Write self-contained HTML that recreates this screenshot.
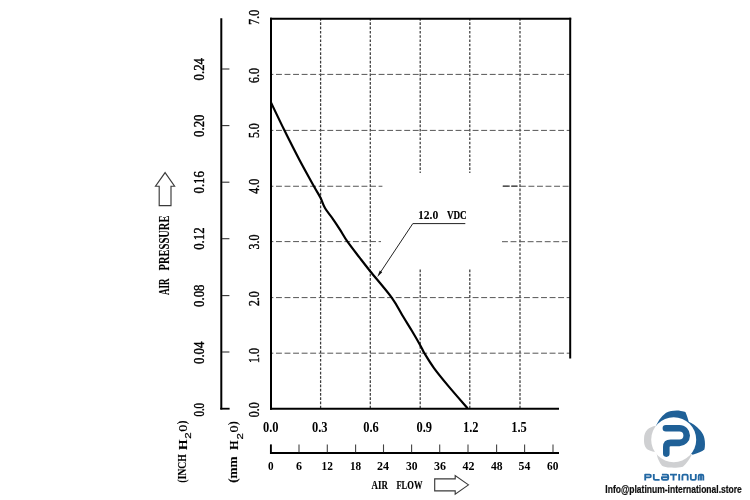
<!DOCTYPE html>
<html><head><meta charset="utf-8"><title>Fan P-Q curve</title>
<style>html,body{margin:0;padding:0;background:#fff;}body{width:750px;height:500px;overflow:hidden;font-family:"Liberation Serif",serif;}svg{display:block;}</style>
</head><body>
<svg width="750" height="500" viewBox="0 0 750 500">
<defs><filter id="soft" x="0" y="0" width="750" height="500" filterUnits="userSpaceOnUse"><feGaussianBlur stdDeviation="0.3"/></filter></defs>
<rect width="750" height="500" fill="#fff"/>
<line x1="320.6" y1="19" x2="320.6" y2="409" stroke="#3c3c3c" stroke-width="1.25" stroke-dasharray="2.7 1.56" stroke-dashoffset="0.90"/>
<line x1="370.3" y1="19" x2="370.3" y2="409" stroke="#3c3c3c" stroke-width="1.25" stroke-dasharray="2.7 1.56" stroke-dashoffset="0.90"/>
<line x1="420.2" y1="19" x2="420.2" y2="173" stroke="#3c3c3c" stroke-width="1.25" stroke-dasharray="2.7 1.56" stroke-dashoffset="0.90"/>
<line x1="420.2" y1="268" x2="420.2" y2="409" stroke="#3c3c3c" stroke-width="1.25" stroke-dasharray="2.7 1.56" stroke-dashoffset="2.82"/>
<line x1="469.8" y1="19" x2="469.8" y2="173" stroke="#3c3c3c" stroke-width="1.25" stroke-dasharray="2.7 1.56" stroke-dashoffset="0.90"/>
<line x1="469.8" y1="268" x2="469.8" y2="409" stroke="#3c3c3c" stroke-width="1.25" stroke-dasharray="2.7 1.56" stroke-dashoffset="2.82"/>
<line x1="520" y1="19" x2="520" y2="409" stroke="#3c3c3c" stroke-width="1.25" stroke-dasharray="2.7 1.56" stroke-dashoffset="0.90"/>
<line x1="271" y1="74.4" x2="570" y2="74.4" stroke="#555" stroke-width="1" stroke-dasharray="5.9 2.65" stroke-dashoffset="3.55"/>
<line x1="271" y1="130.4" x2="570" y2="130.4" stroke="#555" stroke-width="1" stroke-dasharray="5.9 2.65" stroke-dashoffset="3.55"/>
<line x1="271" y1="186.25" x2="382.4" y2="186.25" stroke="#555" stroke-width="1" stroke-dasharray="5.9 2.65" stroke-dashoffset="3.55"/>
<line x1="502.8" y1="186.25" x2="570" y2="186.25" stroke="#555" stroke-width="1" stroke-dasharray="5.9 2.65" stroke-dashoffset="0.00"/>
<line x1="502.8" y1="186.2" x2="517.6" y2="186.2" stroke="#444" stroke-width="1.3" stroke-dasharray="7 1.5"/>
<line x1="271" y1="241.6" x2="381" y2="241.6" stroke="#555" stroke-width="1" stroke-dasharray="5.9 2.65" stroke-dashoffset="3.55"/>
<line x1="502" y1="241.7" x2="570" y2="241.7" stroke="#555" stroke-width="1" stroke-dasharray="5.9 2.65" stroke-dashoffset="0.00"/>
<line x1="271" y1="297.6" x2="570" y2="297.6" stroke="#555" stroke-width="1" stroke-dasharray="5.9 2.65" stroke-dashoffset="3.55"/>
<line x1="271" y1="353.2" x2="570" y2="353.2" stroke="#555" stroke-width="1" stroke-dasharray="5.9 2.65" stroke-dashoffset="3.55"/>
<line x1="271" y1="17.8" x2="271" y2="409.7" stroke="#000" stroke-width="2"/>
<line x1="270" y1="18.8" x2="571.2" y2="18.8" stroke="#000" stroke-width="1.9"/>
<line x1="570.2" y1="17.8" x2="570.2" y2="358.6" stroke="#000" stroke-width="2"/>
<line x1="270" y1="408.8" x2="559" y2="408.8" stroke="#000" stroke-width="1.9"/>
<line x1="221.3" y1="18.2" x2="221.3" y2="409.6" stroke="#000" stroke-width="2"/>
<line x1="220.3" y1="408.7" x2="229.6" y2="408.7" stroke="#000" stroke-width="1.8"/>
<line x1="222" y1="69" x2="229.4" y2="69" stroke="#333" stroke-width="1.1"/>
<line x1="222" y1="125.6" x2="229.4" y2="125.6" stroke="#333" stroke-width="1.1"/>
<line x1="222" y1="182.2" x2="229.4" y2="182.2" stroke="#333" stroke-width="1.1"/>
<line x1="222" y1="238.7" x2="229.4" y2="238.7" stroke="#333" stroke-width="1.1"/>
<line x1="222" y1="295.6" x2="229.4" y2="295.6" stroke="#333" stroke-width="1.1"/>
<line x1="222" y1="352" x2="229.4" y2="352" stroke="#333" stroke-width="1.1"/>
<line x1="270" y1="453" x2="559" y2="453" stroke="#000" stroke-width="1.9"/>
<line x1="270.9" y1="444.4" x2="270.9" y2="454" stroke="#000" stroke-width="1.9"/>
<line x1="299" y1="444.4" x2="299" y2="452.2" stroke="#444" stroke-width="1.1"/>
<line x1="327.3" y1="444.4" x2="327.3" y2="452.2" stroke="#444" stroke-width="1.1"/>
<line x1="355.6" y1="444.4" x2="355.6" y2="452.2" stroke="#444" stroke-width="1.1"/>
<line x1="383.5" y1="444.4" x2="383.5" y2="452.2" stroke="#444" stroke-width="1.1"/>
<line x1="411.6" y1="444.4" x2="411.6" y2="452.2" stroke="#444" stroke-width="1.1"/>
<line x1="439.7" y1="444.4" x2="439.7" y2="452.2" stroke="#444" stroke-width="1.1"/>
<line x1="468" y1="444.4" x2="468" y2="452.2" stroke="#444" stroke-width="1.1"/>
<line x1="496.6" y1="444.4" x2="496.6" y2="452.2" stroke="#444" stroke-width="1.1"/>
<line x1="524.6" y1="444.4" x2="524.6" y2="452.2" stroke="#444" stroke-width="1.1"/>
<line x1="553" y1="444.4" x2="553" y2="452.2" stroke="#444" stroke-width="1.1"/>
<path d="M271,102.5 C273.23,107.13 279.65,120.72 284.4,130.3 C289.15,139.88 294.58,150.68 299.5,160 C304.42,169.32 310.40,179.90 313.9,186.2 C317.40,192.50 318.63,194.12 320.5,197.8 C322.37,201.48 323.05,204.80 325.1,208.3 C327.15,211.80 330.35,215.30 332.8,218.8 C335.25,222.30 337.35,225.48 339.8,229.3 C342.25,233.12 344.13,236.88 347.5,241.7 C350.87,246.52 356.22,253.28 360,258.2 C363.78,263.12 364.92,264.63 370.2,271.2 C375.48,277.77 386.22,290.05 391.7,297.6 C397.18,305.15 399.72,310.93 403.1,316.5 C406.48,322.07 409.15,326.22 412,331 C414.85,335.78 418.13,341.50 420.2,345.2 C422.27,348.90 422.10,349.38 424.4,353.2 C426.70,357.02 430.07,362.70 434,368.1 C437.93,373.50 442.40,378.90 448,385.6 C453.60,392.30 464.33,404.52 467.6,408.3" fill="none" stroke="#000" stroke-width="2.2" stroke-linejoin="round"/>
<path d="M465.3,223.6 L412.8,223.6 L380.5,272.2" fill="none" stroke="#222" stroke-width="1"/>
<path d="M377.3,277 L379.8,270.6 L382.2,272.2 Z" fill="#111"/>
<path d="M165.1,172.6 L174.6,186.2 L171,186.2 L171,205.6 L159.2,205.6 L159.2,186.2 L155.5,186.2 Z" fill="#fff" stroke="#3a3a3a" stroke-width="1.15" stroke-linejoin="miter"/>
<path d="M468.5,484.85 L455.2,475.6 L455.2,478.9 L434.7,478.9 L434.7,490.8 L455.2,490.8 L455.2,494.1 Z" fill="#fff" stroke="#3a3a3a" stroke-width="1.15" stroke-linejoin="miter"/>
<g filter="url(#soft)">
<text transform="translate(199.30,69.20) rotate(-90) scale(0.0640,0.0726) translate(-175.00,65.50)" font-family="Liberation Serif" font-weight="normal" font-size="200" fill="#000"  stroke="#000" stroke-width="5.56" stroke-linejoin="round">0.24</text>
<text transform="translate(199.30,125.70) rotate(-90) scale(0.0640,0.0726) translate(-175.00,65.50)" font-family="Liberation Serif" font-weight="normal" font-size="200" fill="#000"  stroke="#000" stroke-width="5.56" stroke-linejoin="round">0.20</text>
<text transform="translate(199.30,182.30) rotate(-90) scale(0.0640,0.0726) translate(-175.00,65.50)" font-family="Liberation Serif" font-weight="normal" font-size="200" fill="#000"  stroke="#000" stroke-width="5.56" stroke-linejoin="round">0.16</text>
<text transform="translate(199.30,238.60) rotate(-90) scale(0.0640,0.0726) translate(-175.00,65.50)" font-family="Liberation Serif" font-weight="normal" font-size="200" fill="#000"  stroke="#000" stroke-width="5.56" stroke-linejoin="round">0.12</text>
<text transform="translate(199.30,295.70) rotate(-90) scale(0.0640,0.0726) translate(-175.00,65.50)" font-family="Liberation Serif" font-weight="normal" font-size="200" fill="#000"  stroke="#000" stroke-width="5.56" stroke-linejoin="round">0.08</text>
<text transform="translate(199.30,352.80) rotate(-90) scale(0.0640,0.0726) translate(-175.00,65.50)" font-family="Liberation Serif" font-weight="normal" font-size="200" fill="#000"  stroke="#000" stroke-width="5.56" stroke-linejoin="round">0.04</text>
<text transform="translate(199.30,409.75) rotate(-90) scale(0.0540,0.0726) translate(-125.00,65.50)" font-family="Liberation Serif" font-weight="normal" font-size="200" fill="#000"  stroke="#000" stroke-width="6.00" stroke-linejoin="round">0.0</text>
<text transform="translate(254.90,17.30) rotate(-90) scale(0.0592,0.0696) translate(-125.00,65.50)" font-family="Liberation Serif" font-weight="normal" font-size="200" fill="#000"  stroke="#000" stroke-width="5.90" stroke-linejoin="round">7.0</text>
<text transform="translate(254.90,75.50) rotate(-90) scale(0.0592,0.0696) translate(-125.00,65.50)" font-family="Liberation Serif" font-weight="normal" font-size="200" fill="#000"  stroke="#000" stroke-width="5.90" stroke-linejoin="round">6.0</text>
<text transform="translate(254.90,130.70) rotate(-90) scale(0.0592,0.0696) translate(-125.00,65.50)" font-family="Liberation Serif" font-weight="normal" font-size="200" fill="#000"  stroke="#000" stroke-width="5.90" stroke-linejoin="round">5.0</text>
<text transform="translate(254.90,186.30) rotate(-90) scale(0.0592,0.0696) translate(-125.00,65.50)" font-family="Liberation Serif" font-weight="normal" font-size="200" fill="#000"  stroke="#000" stroke-width="5.90" stroke-linejoin="round">4.0</text>
<text transform="translate(254.90,242.00) rotate(-90) scale(0.0592,0.0696) translate(-125.00,65.50)" font-family="Liberation Serif" font-weight="normal" font-size="200" fill="#000"  stroke="#000" stroke-width="5.90" stroke-linejoin="round">3.0</text>
<text transform="translate(254.90,298.70) rotate(-90) scale(0.0592,0.0696) translate(-125.00,65.50)" font-family="Liberation Serif" font-weight="normal" font-size="200" fill="#000"  stroke="#000" stroke-width="5.90" stroke-linejoin="round">2.0</text>
<text transform="translate(254.90,355.50) rotate(-90) scale(0.0592,0.0696) translate(-125.00,65.50)" font-family="Liberation Serif" font-weight="normal" font-size="200" fill="#000"  stroke="#000" stroke-width="5.90" stroke-linejoin="round">1.0</text>
<text transform="translate(254.90,409.80) rotate(-90) scale(0.0592,0.0696) translate(-125.00,65.50)" font-family="Liberation Serif" font-weight="normal" font-size="200" fill="#000"  stroke="#000" stroke-width="5.90" stroke-linejoin="round">0.0</text>
<text transform="translate(270.70,427.80) rotate(0) scale(0.0624,0.0711) translate(-125.00,65.50)" font-family="Liberation Serif" font-weight="bold" font-size="200" fill="#000" >0.0</text>
<text transform="translate(319.80,427.80) rotate(0) scale(0.0624,0.0711) translate(-125.00,65.50)" font-family="Liberation Serif" font-weight="bold" font-size="200" fill="#000" >0.3</text>
<text transform="translate(371.00,427.80) rotate(0) scale(0.0624,0.0711) translate(-125.00,65.50)" font-family="Liberation Serif" font-weight="bold" font-size="200" fill="#000" >0.6</text>
<text transform="translate(424.20,427.80) rotate(0) scale(0.0624,0.0711) translate(-125.00,65.50)" font-family="Liberation Serif" font-weight="bold" font-size="200" fill="#000" >0.9</text>
<text transform="translate(470.70,427.80) rotate(0) scale(0.0624,0.0711) translate(-125.00,65.50)" font-family="Liberation Serif" font-weight="bold" font-size="200" fill="#000" >1.2</text>
<text transform="translate(519.00,427.80) rotate(0) scale(0.0624,0.0711) translate(-125.00,65.50)" font-family="Liberation Serif" font-weight="bold" font-size="200" fill="#000" >1.5</text>
<text transform="translate(270.80,465.85) rotate(0) scale(0.0560,0.0674) translate(-50.00,65.50)" font-family="Liberation Serif" font-weight="bold" font-size="200" fill="#000" >0</text>
<text transform="translate(299.00,465.85) rotate(0) scale(0.0600,0.0674) translate(-50.00,65.50)" font-family="Liberation Serif" font-weight="bold" font-size="200" fill="#000" >6</text>
<text transform="translate(327.30,465.85) rotate(0) scale(0.0570,0.0674) translate(-100.00,65.50)" font-family="Liberation Serif" font-weight="bold" font-size="200" fill="#000" >12</text>
<text transform="translate(355.50,465.85) rotate(0) scale(0.0560,0.0674) translate(-100.00,65.50)" font-family="Liberation Serif" font-weight="bold" font-size="200" fill="#000" >18</text>
<text transform="translate(383.00,465.85) rotate(0) scale(0.0600,0.0674) translate(-100.00,65.50)" font-family="Liberation Serif" font-weight="bold" font-size="200" fill="#000" >24</text>
<text transform="translate(411.80,465.85) rotate(0) scale(0.0580,0.0674) translate(-100.00,65.50)" font-family="Liberation Serif" font-weight="bold" font-size="200" fill="#000" >30</text>
<text transform="translate(440.00,465.85) rotate(0) scale(0.0600,0.0674) translate(-100.00,65.50)" font-family="Liberation Serif" font-weight="bold" font-size="200" fill="#000" >36</text>
<text transform="translate(468.40,465.85) rotate(0) scale(0.0600,0.0674) translate(-100.00,65.50)" font-family="Liberation Serif" font-weight="bold" font-size="200" fill="#000" >42</text>
<text transform="translate(496.80,465.85) rotate(0) scale(0.0580,0.0674) translate(-100.00,65.50)" font-family="Liberation Serif" font-weight="bold" font-size="200" fill="#000" >48</text>
<text transform="translate(524.50,465.85) rotate(0) scale(0.0590,0.0674) translate(-100.00,65.50)" font-family="Liberation Serif" font-weight="bold" font-size="200" fill="#000" >54</text>
<text transform="translate(552.70,465.85) rotate(0) scale(0.0570,0.0674) translate(-100.00,65.50)" font-family="Liberation Serif" font-weight="bold" font-size="200" fill="#000" >60</text>
<text transform="translate(379.80,484.95) rotate(0) scale(0.0444,0.0659) translate(-184.50,66.00)" font-family="Liberation Serif" font-weight="bold" font-size="200" fill="#000"  stroke="#000" stroke-width="2.72" stroke-linejoin="round">AIR</text>
<text transform="translate(409.40,484.95) rotate(0) scale(0.0426,0.0644) translate(-305.50,64.50)" font-family="Liberation Serif" font-weight="bold" font-size="200" fill="#000"  stroke="#000" stroke-width="2.80" stroke-linejoin="round">FLOW</text>
<text transform="translate(164.50,286.75) rotate(-90) scale(0.0447,0.0742) translate(-184.50,66.00)" font-family="Liberation Serif" font-weight="bold" font-size="200" fill="#000"  stroke="#000" stroke-width="1.68" stroke-linejoin="round">AIR</text>
<text transform="translate(164.50,242.95) rotate(-90) scale(0.0525,0.0731) translate(-522.50,65.00)" font-family="Liberation Serif" font-weight="bold" font-size="200" fill="#000"  stroke="#000" stroke-width="1.59" stroke-linejoin="round">PRESSURE</text>
<text transform="translate(428.15,214.35) rotate(0) scale(0.0586,0.0654) translate(-175.00,65.00)" font-family="Liberation Serif" font-weight="bold" font-size="200" fill="#000" >12.0</text>
<text transform="translate(456.80,214.35) rotate(0) scale(0.0457,0.0659) translate(-216.50,64.50)" font-family="Liberation Serif" font-weight="bold" font-size="200" fill="#000"  stroke="#000" stroke-width="3.58" stroke-linejoin="round">VDC</text>
<text transform="translate(183.00,468.40) rotate(-90) scale(0.0489,0.0659) translate(-294.50,48.00)" font-family="Liberation Serif" font-weight="bold" font-size="200" fill="#000"  stroke="#000" stroke-width="1.74" stroke-linejoin="round">(INCH</text>
<text transform="translate(182.60,444.80) rotate(-90) scale(0.0667,0.0611) translate(-78.00,65.50)" font-family="Liberation Serif" font-weight="bold" font-size="200" fill="#000"  stroke="#000" stroke-width="1.57" stroke-linejoin="round">H</text>
<text transform="translate(188.30,435.60) rotate(-90) scale(0.0577,0.0443) translate(-55.50,70.00)" font-family="Liberation Sans" font-weight="normal" font-size="200" fill="#000"  stroke="#000" stroke-width="4.90" stroke-linejoin="round">2</text>
<text transform="translate(182.60,428.15) rotate(-90) scale(0.0455,0.0612) translate(-78.00,65.00)" font-family="Liberation Serif" font-weight="bold" font-size="200" fill="#000"  stroke="#000" stroke-width="1.87" stroke-linejoin="round">O</text>
<text transform="translate(183.00,422.30) rotate(-90) scale(0.0567,0.0659) translate(-33.50,48.00)" font-family="Liberation Serif" font-weight="bold" font-size="200" fill="#000"  stroke="#000" stroke-width="1.63" stroke-linejoin="round">)</text>
<text transform="translate(234.20,469.60) rotate(-90) scale(0.0660,0.0659) translate(-200.00,48.00)" font-family="Liberation Serif" font-weight="bold" font-size="200" fill="#000"  stroke="#000" stroke-width="1.52" stroke-linejoin="round">(mm</text>
<text transform="translate(233.80,445.20) rotate(-90) scale(0.0615,0.0611) translate(-78.00,65.50)" font-family="Liberation Serif" font-weight="bold" font-size="200" fill="#000"  stroke="#000" stroke-width="1.63" stroke-linejoin="round">H</text>
<text transform="translate(239.50,436.40) rotate(-90) scale(0.0577,0.0443) translate(-55.50,70.00)" font-family="Liberation Sans" font-weight="normal" font-size="200" fill="#000"  stroke="#000" stroke-width="4.90" stroke-linejoin="round">2</text>
<text transform="translate(233.80,428.95) rotate(-90) scale(0.0455,0.0612) translate(-78.00,65.00)" font-family="Liberation Serif" font-weight="bold" font-size="200" fill="#000"  stroke="#000" stroke-width="1.87" stroke-linejoin="round">O</text>
<text transform="translate(234.20,423.10) rotate(-90) scale(0.0567,0.0659) translate(-33.50,48.00)" font-family="Liberation Serif" font-weight="bold" font-size="200" fill="#000"  stroke="#000" stroke-width="1.63" stroke-linejoin="round">)</text>
</g>
<g id="logo">
<path d="M655,428.6 C657.2,422 660.6,416.8 666.1,412.7 C670,410.8 676,410.2 680.8,410.9 C683,411.2 684.4,411.6 685.4,412.1 C686.6,415 688,419 689.4,423.6 L673.7,439.7 Z" fill="#1f6097"/>
<path d="M688.6,421.8 C692,423 696,425.6 700.4,430.6 C702.6,433.4 704,436 704.4,438.6 C705.2,442.4 705.2,446.4 704.4,449.6 C702,451.6 698,453.4 692.6,454.8 L673.7,439.7 Z" fill="#1f6097"/>
<path d="M656,425.8 C652.6,426.4 649.4,427.8 647.2,429.8 C645.2,432 644.2,435 644.1,437.6 C643.9,440.6 644,443 644.5,444.8 C645.2,447.2 646.4,448.8 648,449.8 C651,451.4 654,452 658,452.6 L673.7,439.7 Z" fill="#cfd0d2"/>
<path d="M656.4,451.4 C656.8,455 657.6,458 658.8,460.6 C659.8,462.8 660.8,464.4 662,465.7 C664,466.8 667,467.3 670,467.6 C674,467.9 678,467.8 682.9,466.7 C684.8,465 686.6,463 688,461 C689.4,459 690.6,457 691.8,454.8 L673.7,439.7 Z" fill="#cfd0d2"/>
<circle cx="673.7" cy="439.7" r="22.5" fill="#fff"/>
<path d="M665.9,428.3 L679.4,428.3 A7.3,7.3 0 0 1 679.4,442.9 L670.6,442.9 Q666.3,442.9 666.3,447 L666.3,453.6" fill="none" stroke="#1f6097" stroke-width="6.6" stroke-linecap="round" stroke-linejoin="round"/>
</g>
<g filter="url(#soft)">
<path d="M645.2,480.4 V474.6 H649.5 Q650.9,474.6 650.9,476 Q650.9,477.4 649.5,477.4 H645.2 M653.8,473.9 V478.5 Q653.8,479.8 655.1,479.8 H659.6 M661.9,474.6 H666.8 Q668.2,474.6 668.2,476 V478.4 Q668.2,479.8 666.8,479.8 H663.3 Q661.9,479.8 661.9,478.4 V477.2 H668.2 M670,474.6 H677 M673.5,474.6 V480.4 M679.2,473.9 V480.4 M682.4,480.4 V476 Q682.4,474.6 683.8,474.6 H686.3 Q687.7,474.6 687.7,476 V480.4 M690.8,473.9 V478.4 Q690.8,479.8 692.2,479.8 H694.4 Q695.8,479.8 695.8,478.4 V473.9 M698.7,480.4 V476 Q698.7,474.6 700,474.6 H702 Q703.3,474.6 703.3,476 V480.4 M701,474.6 V480.4" fill="none" stroke="#2467a3" stroke-width="1.85" stroke-linejoin="round"/>
<text transform="translate(673.65,490.10) rotate(0) scale(0.0426,0.0513) translate(-1603.00,51.50)" font-family="Liberation Sans" font-weight="bold" font-size="200" fill="#111"  stroke="#111" stroke-width="4.26" stroke-linejoin="round">Info@platinum-international.store</text>
</g>
</svg>
</body></html>
